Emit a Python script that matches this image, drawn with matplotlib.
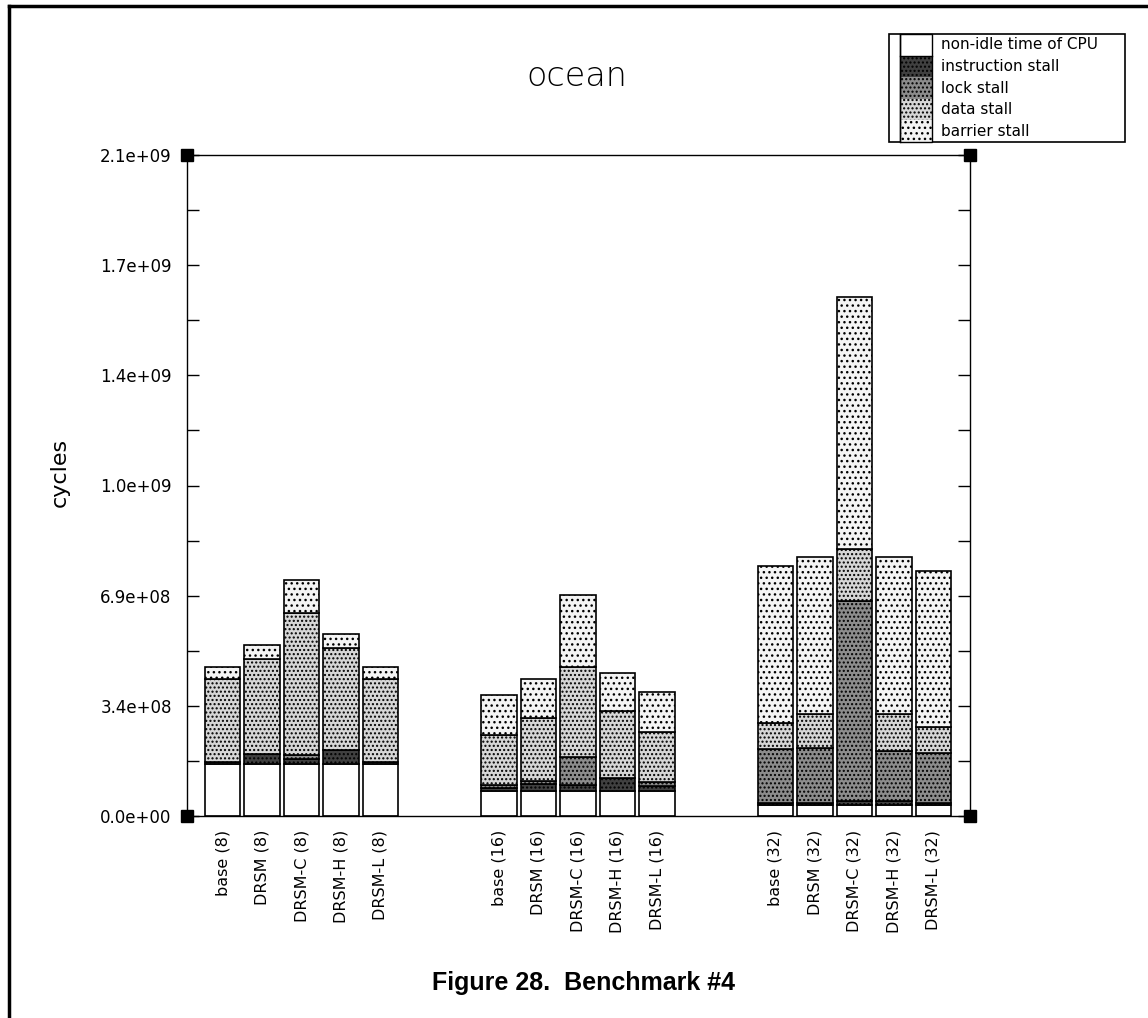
import numpy as np
import matplotlib
matplotlib.use("Agg")
import matplotlib.pyplot as plt
from matplotlib.patches import Rectangle

# categories, three processor counts of five configurations each
configs = ["base", "DRSM", "DRSM-C", "DRSM-H", "DRSM-L"]
procs = [8, 16, 32]
labels = [f"{c} ({p})" for p in procs for c in configs]

# cycles per component, bottom to top
non_idle = [1.62e8, 1.62e8, 1.62e8, 1.62e8, 1.62e8,
            7.9e7, 7.9e7, 7.9e7, 7.9e7, 7.9e7,
            3.3e7, 3.3e7, 3.3e7, 3.3e7, 3.3e7]
instr = [6e6, 3.0e7, 1.5e7, 4.4e7, 6e6,
         8e6, 2.2e7, 1.8e7, 4.0e7, 1.4e7,
         8e6, 8e6, 1.5e7, 1.3e7, 8e6]
lock = [0, 0, 1.2e7, 0, 0,
        1.0e7, 8e6, 8.8e7, 0, 1.4e7,
        1.67e8, 1.70e8, 6.21e8, 1.56e8, 1.56e8]
data = [2.60e8, 2.97e8, 4.45e8, 3.19e8, 2.60e8,
        1.56e8, 1.95e8, 2.80e8, 2.08e8, 1.54e8,
        8.1e7, 1.07e8, 1.62e8, 1.16e8, 8.1e7]
barrier = [3.6e7, 4.4e7, 1.0e8, 4.3e7, 3.6e7,
           1.25e8, 1.22e8, 2.24e8, 1.19e8, 1.25e8,
           4.90e8, 4.89e8, 7.86e8, 4.89e8, 4.85e8]

series = [non_idle, instr, lock, data, barrier]
names = ["non-idle time of CPU", "instruction stall", "lock stall",
         "data stall", "barrier stall"]
fills = ["white", "#404040", "#8c8c8c", "#d6d6d6", "#f4f4f4"]
hatches = [None, "....", "....", "....", "..."]

YMAX = 2.06e9

W, H = 1148, 1018
fig = plt.figure(figsize=(W / 100, H / 100), dpi=100)
ax = fig.add_axes([187 / W, 1 - 816 / H, 783 / W, 661 / H])

# bar positions: five slots per group, two empty slots between groups
x = np.array([g * 7 + i for g in range(3) for i in range(5)], dtype=float)

bottom = np.zeros(len(x))
for vals, fc, hp in zip(series, fills, hatches):
    vals = np.array(vals)
    ax.bar(x, vals, width=0.9, bottom=bottom, color=fc, hatch=hp,
           edgecolor="black", linewidth=1.2)
    bottom += vals

ax.set_xlim(-0.9, 18.93)
ax.set_ylim(0, YMAX)
ax.set_xticks(x)
ax.set_xticklabels(labels, rotation=90, fontsize=11.5, va="top")
ax.tick_params(axis="x", length=0, pad=10)

yt = np.linspace(0, YMAX, 7)
ax.set_yticks(yt)
ax.set_yticklabels([f"{v:.1e}" for v in yt], fontsize=12)
ax.set_yticks(np.linspace(0, YMAX, 13), minor=True)
ax.tick_params(axis="y", which="both", direction="in", length=8.5,
               width=1, left=True, right=True, pad=11)
for s in ax.spines.values():
    s.set_linewidth(1)

ax.set_ylabel("cycles", fontsize=16)
ax.yaxis.set_label_coords(-0.15, 0.52)

# black squares on the four corners of the frame
ax.plot([0, 1, 0, 1], [0, 0, 1, 1], "s", color="black", ms=9,
        transform=ax.transAxes, clip_on=False, zorder=5)

fig.text(577 / W, 1 - 76 / H, "ocean", fontsize=24, ha="center",
         va="center", fontweight="light")

# legend box drawn by hand, in pixel coordinates of an overlay
ov = fig.add_axes([0, 0, 1, 1], zorder=10)
ov.set_xlim(0, W)
ov.set_ylim(H, 0)
ov.axis("off")
ov.add_patch(Rectangle((889, 34), 236, 108, fc="white", ec="black", lw=1.2))
ov.plot([900, 900], [34, 142], color="black", lw=1)
row_h = 108 / 5
for i, (nm, fc, hp) in enumerate(zip(names, fills, hatches)):
    y0 = 34 + i * row_h
    ov.add_patch(Rectangle((900, y0), 32, row_h, fc=fc, hatch=hp,
                           ec="black", lw=0))
    ov.text(941, y0 + row_h / 2, nm, fontsize=11, va="center", ha="left")
ov.add_patch(Rectangle((900, 34), 32, 108, fill=False, ec="black", lw=1))
ov.plot([900, 932], [34 + row_h, 34 + row_h], color="black", lw=1)

# page frame (left and top edges) and caption
ov.plot([9, 9], [H, 6], color="black", lw=2.5)
ov.plot([9, W], [6, 6], color="black", lw=2.5)
ov.text(583, 983, "Figure 28.  Benchmark #4", fontsize=18,
        fontweight="bold", family="Liberation Sans", ha="center",
        va="center")

fig.savefig("out.png", dpi=100)
